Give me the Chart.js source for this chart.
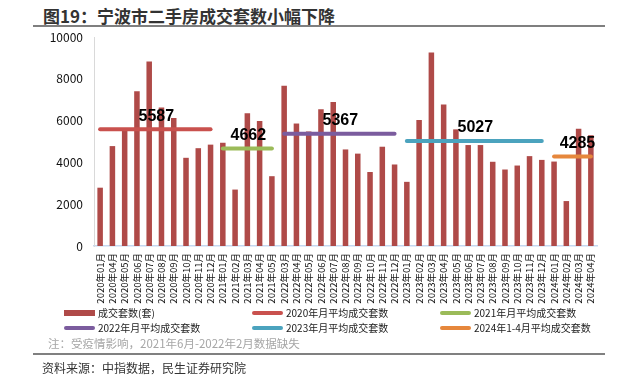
<!DOCTYPE html>
<html>
<head>
<meta charset="utf-8">
<script src="https://cdn.jsdelivr.net/npm/chart.js@4/dist/chart.umd.min.js"></script>
<style>
  body{margin:0;width:626px;height:381px;position:relative;background:#fff;overflow:hidden;font-family:'Noto Sans CJK SC','Liberation Sans',sans-serif;}
  .abs{position:absolute;white-space:nowrap;}
  .lg{position:absolute;font-size:10px;color:#222;line-height:12px;white-space:nowrap;}
  .sw{position:absolute;width:31px;height:4px;border-radius:2px;}
</style>
</head>
<body>
<div class="abs" style="left:43px;top:6px;font-weight:bold;font-size:17px;line-height:20px;color:#333;">图19：宁波市二手房成交套数小幅下降</div>
<div class="abs" style="left:33px;top:25px;width:572px;height:2px;background:#7f7f7f;"></div>
<canvas id="c" width="626" height="381" style="position:absolute;left:0;top:0;"></canvas>
<div id="legend"></div>
<div class="abs" style="left:48px;top:335px;font-size:11.5px;line-height:16px;color:#a6a6a6;">注：受疫情影响，2021年6月-2022年2月数据缺失</div>
<div class="abs" style="left:33px;top:353px;width:572px;height:2px;background:#808080;"></div>
<div class="abs" style="left:42px;top:360px;font-size:12px;line-height:16px;color:#333;">资料来源：中指数据，民生证券研究院</div>
<script>
// 月份（2020年2-3月、2021年6月-2022年2月缺失）
const months = [
  '2020年01月','2020年04月','2020年05月','2020年06月','2020年07月','2020年08月','2020年09月','2020年10月','2020年11月','2020年12月',
  '2021年01月','2021年02月','2021年03月','2021年04月','2021年05月',
  '2022年03月','2022年04月','2022年05月','2022年06月','2022年07月','2022年08月','2022年09月','2022年10月','2022年11月','2022年12月',
  '2023年01月','2023年02月','2023年03月','2023年04月','2023年05月','2023年06月','2023年07月','2023年08月','2023年09月','2023年10月','2023年11月','2023年12月',
  '2024年01月','2024年02月','2024年03月','2024年04月'
];
// 成交套数(套)
const deals = [
  2790,4780,5560,7400,8830,6630,6130,4220,4680,4850,
  4940,2700,6350,5980,3340,
  7670,5860,5480,6540,6890,4620,4420,3540,4750,3900,
  3070,6030,9260,6770,5580,4830,4830,4030,3660,3850,4300,4120,
  4040,2150,5610,5300
];
// 各年月平均成交套数
const avgYears  = ['2020','2021','2022','2023','2024'];
const avgValues = [5587, 4662, 5367, 5027, 4285];
const avgNames  = ['2020年月平均成交套数','2021年月平均成交套数','2022年月平均成交套数','2023年月平均成交套数','2024年1-4月平均成交套数'];
const avgColors = ['#C9514E','#9BBB59','#7B5C9E','#4BA3BE','#E6873C'];
const barColor  = '#AF4A48';
const yTicks    = [0,2000,4000,6000,8000,10000];

const FONT = "'Noto Sans CJK SC','Liberation Sans',sans-serif";

const avgSets = avgYears.map((yr,i)=>({
  type:'line',
  label: avgNames[i],
  data: months.map(m=>m.startsWith(yr) ? avgValues[i] : null),
  borderColor: avgColors[i],
  borderWidth: 4,
  borderCapStyle: 'round',
  pointRadius: 0,
  spanGaps: false,
  fill: false,
  order: 0
}));

// 平均线数值标签
const avgLabels = {
  id:'avgLabels',
  afterDatasetsDraw(chart){
    const {ctx, scales:{x,y}} = chart;
    ctx.save();
    ctx.font = "bold 16px 'Liberation Sans',Arial,sans-serif";
    ctx.fillStyle = '#000';
    ctx.textAlign = 'center';
    ctx.textBaseline = 'middle';
    avgSets.forEach((ds,i)=>{
      const idx = ds.data.map((v,k)=>v==null?-1:k).filter(k=>k>=0);
      const x0 = x.getPixelForValue(idx[0]);
      const x1 = x.getPixelForValue(idx[idx.length-1]);
      ctx.fillText(String(avgValues[i]), (x0+x1)/2 + (i===4?5:1), y.getPixelForValue(avgValues[i]) - 13);
    });
    ctx.restore();
  }
};

new Chart(document.getElementById('c'), {
  data:{
    labels: months,
    datasets:[
      { type:'bar', label:'成交套数(套)', data: deals, backgroundColor: barColor,
        categoryPercentage:0.5, barPercentage:0.9, order:1 },
      ...avgSets
    ]
  },
  options:{
    responsive:false,
    animation:false,
    layout:{ padding:{ left:0, top:37, right:29, bottom:0 } },
    plugins:{ legend:{display:false}, tooltip:{enabled:false} },
    scales:{
      x:{
        grid:{display:false, drawTicks:false},
        border:{display:true, color:'#c5d9f1', width:1.5},
        ticks:{ autoSkip:false, maxRotation:90, minRotation:90, padding:7,
                color:'#111', font:{family:FONT, size:9.5} },
        afterFit(s){ s.height = 135; }
      },
      y:{
        min:0, max:10000,
        grid:{display:false, drawTicks:false},
        border:{display:true, color:'#d9d9d9', width:1},
        afterBuildTicks(s){ s.ticks = yTicks.map(v=>({value:v})); },
        ticks:{ padding:11, color:'#111', font:{family:FONT, size:12},
                callback:v=>String(v) },
        afterFit(s){ s.width = 94; }
      }
    }
  },
  plugins:[avgLabels]
});

// 图例
const legend = document.getElementById('legend');
const items = [{name:'成交套数(套)', color:barColor, bar:true}]
  .concat(avgNames.map((n,i)=>({name:n, color:avgColors[i]})));
const colX = [64, 252, 440], rowY = [313, 328];
items.forEach((it,i)=>{
  const cx = colX[i%3], cy = rowY[Math.floor(i/3)];
  const sw = document.createElement('div');
  sw.className = 'sw';
  sw.style.left = cx+'px';
  sw.style.top = (cy - (it.bar?3:2))+'px';
  sw.style.background = it.color;
  if (it.bar){ sw.style.height='6px'; sw.style.borderRadius='0'; }
  legend.appendChild(sw);
  const t = document.createElement('div');
  t.className = 'lg';
  t.style.left = (cx+34)+'px';
  t.style.top = (cy-6)+'px';
  t.textContent = it.name;
  legend.appendChild(t);
});
</script>
</body>
</html>
